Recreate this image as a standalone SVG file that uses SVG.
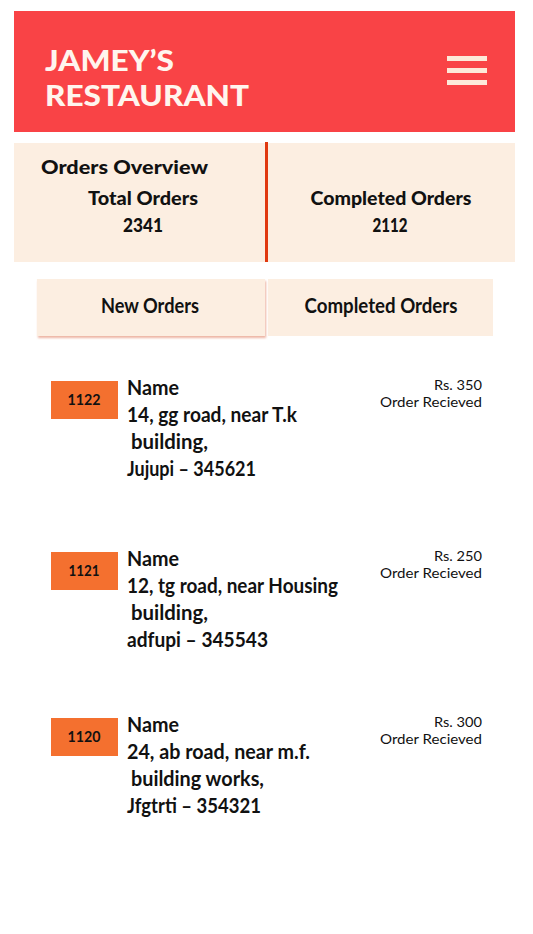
<svg xmlns="http://www.w3.org/2000/svg" width="533" height="934" viewBox="0 0 533 934">
<defs>
<style>
.hdr{font-family:"Lato","Liberation Sans",sans-serif;font-weight:900;fill:#FFF5EE;font-size:29px}
.ov{font-family:"Lato","Liberation Sans",sans-serif;font-weight:900;fill:#111;font-size:19px}
.tab{font-family:"Lato","Liberation Sans",sans-serif;font-weight:700;fill:#111;font-size:20px}
.addr{font-family:"Lato","Liberation Sans",sans-serif;font-weight:700;fill:#111;font-size:21px}
.id{font-family:"Lato","Liberation Sans",sans-serif;font-weight:700;fill:#111;font-size:16px}
.sm{font-family:"Lato","Liberation Sans",sans-serif;font-weight:400;fill:#111;font-size:14px}
.cream{fill:#FCEEE1}
.badge{fill:#F4702F}
</style>
<filter id="sh" x="-5%" y="-10%" width="115%" height="130%">
<feDropShadow dx="1" dy="2" stdDeviation="1.2" flood-color="#E8A08A" flood-opacity="0.8"/>
</filter>
</defs>
<rect width="533" height="934" fill="#FFFFFF"/>
<g id="header">
<rect x="14" y="11" width="501" height="121" fill="#F94346"/>
<text class="hdr" x="45" y="71" textLength="129" lengthAdjust="spacingAndGlyphs">JAMEY’S</text>
<text class="hdr" x="45" y="106" textLength="204" lengthAdjust="spacingAndGlyphs">RESTAURANT</text>
<rect x="447" y="56" width="40" height="5" fill="#FDE9D9"/>
<rect x="447" y="68" width="40" height="5" fill="#FDE9D9"/>
<rect x="447" y="80" width="40" height="5" fill="#FDE9D9"/>
</g>
<g id="overview">
<rect class="cream" x="14" y="143" width="501" height="119"/>
<rect x="265" y="142" width="3" height="120" fill="#E0380F"/>
<text class="ov" x="41" y="174" textLength="167" lengthAdjust="spacingAndGlyphs">Orders Overview</text>
<text class="ov" x="143" y="205" text-anchor="middle" textLength="110" lengthAdjust="spacingAndGlyphs">Total Orders</text>
<text class="ov" x="143" y="232" text-anchor="middle" textLength="40" lengthAdjust="spacingAndGlyphs">2341</text>
<text class="ov" x="391" y="205" text-anchor="middle" textLength="161" lengthAdjust="spacingAndGlyphs">Completed Orders</text>
<text class="ov" x="390" y="232" text-anchor="middle" textLength="35" lengthAdjust="spacingAndGlyphs">2112</text>
</g>
<g id="tab-new">
<rect class="cream" x="37" y="279" width="228" height="57" filter="url(#sh)"/>
<text class="tab" x="150" y="313" text-anchor="middle" textLength="98" lengthAdjust="spacingAndGlyphs">New Orders</text>
</g>
<g id="tab-completed">
<rect class="cream" x="268" y="279" width="225" height="57"/>
<text class="tab" x="381" y="313" text-anchor="middle" textLength="153" lengthAdjust="spacingAndGlyphs">Completed Orders</text>
</g>
<g id="order-1122">
<rect class="badge" x="51" y="381" width="67" height="38"/>
<text class="id" x="84" y="405" text-anchor="middle" textLength="33" lengthAdjust="spacingAndGlyphs">1122</text>
<text class="addr" x="127" y="395" textLength="52" lengthAdjust="spacingAndGlyphs">Name</text>
<text class="addr" x="127" y="422" textLength="170" lengthAdjust="spacingAndGlyphs">14, gg road, near T.k</text>
<text class="addr" x="131" y="449" textLength="77" lengthAdjust="spacingAndGlyphs">building,</text>
<text class="addr" x="127" y="476" textLength="129" lengthAdjust="spacingAndGlyphs">Jujupi – 345621</text>
<text class="sm" x="482" y="390" text-anchor="end" textLength="48" lengthAdjust="spacingAndGlyphs">Rs. 350</text>
<text class="sm" x="482" y="407" text-anchor="end" textLength="102" lengthAdjust="spacingAndGlyphs">Order Recieved</text>
</g>
<g id="order-1121">
<rect class="badge" x="51" y="552" width="67" height="38"/>
<text class="id" x="84" y="576" text-anchor="middle" textLength="31" lengthAdjust="spacingAndGlyphs">1121</text>
<text class="addr" x="127" y="566" textLength="52" lengthAdjust="spacingAndGlyphs">Name</text>
<text class="addr" x="127" y="593" textLength="211" lengthAdjust="spacingAndGlyphs">12, tg road, near Housing</text>
<text class="addr" x="131" y="620" textLength="77" lengthAdjust="spacingAndGlyphs">building,</text>
<text class="addr" x="127" y="647" textLength="141" lengthAdjust="spacingAndGlyphs">adfupi – 345543</text>
<text class="sm" x="482" y="561" text-anchor="end" textLength="48" lengthAdjust="spacingAndGlyphs">Rs. 250</text>
<text class="sm" x="482" y="578" text-anchor="end" textLength="102" lengthAdjust="spacingAndGlyphs">Order Recieved</text>
</g>
<g id="order-1120">
<rect class="badge" x="51" y="718" width="67" height="38"/>
<text class="id" x="84" y="742" text-anchor="middle" textLength="33" lengthAdjust="spacingAndGlyphs">1120</text>
<text class="addr" x="127" y="732" textLength="52" lengthAdjust="spacingAndGlyphs">Name</text>
<text class="addr" x="127" y="759" textLength="183" lengthAdjust="spacingAndGlyphs">24, ab road, near m.f.</text>
<text class="addr" x="131" y="786" textLength="133" lengthAdjust="spacingAndGlyphs">building works,</text>
<text class="addr" x="127" y="813" textLength="134" lengthAdjust="spacingAndGlyphs">Jfgtrti – 354321</text>
<text class="sm" x="482" y="727" text-anchor="end" textLength="48" lengthAdjust="spacingAndGlyphs">Rs. 300</text>
<text class="sm" x="482" y="744" text-anchor="end" textLength="102" lengthAdjust="spacingAndGlyphs">Order Recieved</text>
</g>
</svg>
